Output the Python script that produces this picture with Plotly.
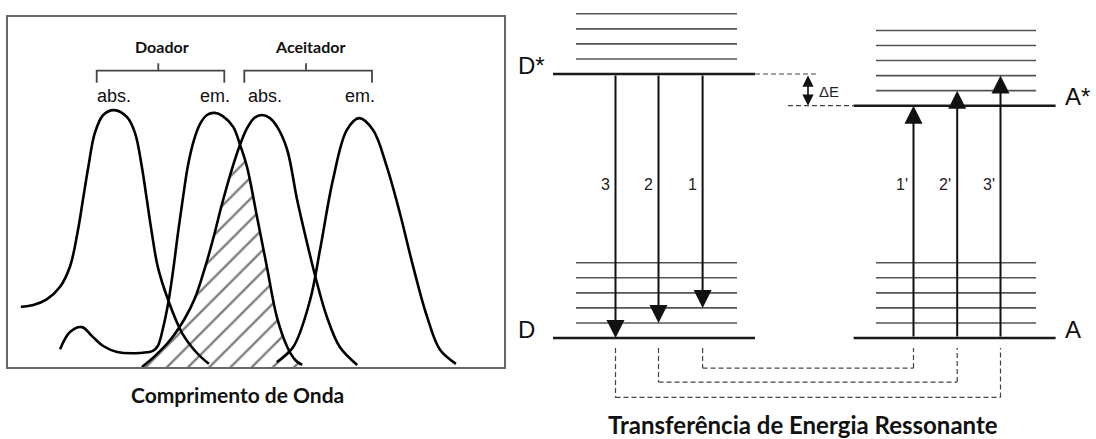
import numpy as np
import plotly.graph_objects as go

W, H = 1096, 439

# ---------------- Spectra (arbitrary wavelength units, intensity units) ----------------
donor_abs_x = [2.6, 5.1, 7.8, 10.5, 12.5, 14.0, 15.1, 16.2, 17.5, 19.2, 21.4, 24.0, 25.6, 27.0, 28.0, 29.0, 30.2, 32.3, 35.1, 38.1, 40.5]
donor_abs_y = [17.2, 17.7, 19.3, 22.9, 28.7, 38.3, 47.7, 57.2, 66.8, 72.0, 73.4, 71.4, 66.9, 57.1, 47.7, 38.3, 28.6, 19.1, 9.7, 4.0, 0.9]

donor_em_x = [10.5, 12.5, 14.9, 17.1, 19.2, 22.0, 26.6, 29.2, 30.2, 31.3, 32.3, 33.3, 34.3, 35.3, 36.3, 37.5, 38.7, 40.1, 41.7, 43.3, 45.4, 46.8, 48.2, 50.2, 52.2, 54.2, 56.3, 57.9, 59.3]
donor_em_y = [5.1, 10.0, 11.4, 8.6, 6.0, 4.3, 4.0, 4.6, 6.0, 11.4, 18.3, 27.7, 38.6, 48.6, 57.7, 64.9, 69.4, 72.0, 72.6, 71.7, 68.6, 63.4, 57.1, 42.9, 28.6, 14.3, 5.7, 2.0, 0.6]

acc_abs_x = [27.0, 29.6, 32.7, 35.7, 37.7, 39.7, 41.3, 43.1, 44.8, 46.4, 48.0, 49.6, 51.2, 52.8, 54.4, 56.3, 58.3, 60.3, 62.3, 64.3, 66.9, 70.4]
acc_abs_y = [0.0, 3.1, 7.7, 14.0, 19.7, 28.3, 36.3, 46.3, 54.9, 62.0, 67.7, 71.1, 72.0, 71.1, 68.3, 62.0, 47.7, 35.4, 24.0, 14.3, 5.7, 0.6]

acc_em_x = [54.2, 57.5, 60.9, 62.9, 65.5, 68.3, 70.8, 73.6, 76.4, 79.0, 81.7, 84.5, 87.1, 90.3]
acc_em_y = [1.4, 5.7, 19.1, 33.4, 53.4, 67.7, 71.1, 67.7, 57.1, 44.0, 28.6, 14.3, 4.9, 0.9]

group_labels = ["Doador", "Aceitador"]
band_labels = ["abs.", "em.", "abs.", "em."]
xlabel_left = "Comprimento de Onda"

# ---------------- Energy levels (energy units) ----------------
E_D = 0.0
E_Dstar = 10.0
E_A = 0.0
E_Astar = 8.8
D_vib = [0.57, 1.14, 1.71, 2.28, 2.85]
Dstar_vib = [10.57, 11.14, 11.71, 12.28]
A_vib = [0.57, 1.14, 1.71, 2.28, 2.85]
Astar_vib = [9.37, 9.94, 10.51, 11.08, 11.65]
donor_targets = [1.14, 0.57, 0.0]          # transitions 1, 2, 3 (D* -> D levels)
acceptor_targets = [8.8, 9.37, 9.94]       # transitions 1', 2', 3' (A -> A* levels)
donor_tlabels = ["1", "2", "3"]
acceptor_tlabels = ["1'", "2'", "3'"]
title_right = "Transferência de Energia Ressonante"

# ---------------- Layout constants (pixels) ----------------
BOX_L, BOX_R, BOX_T, BOX_B = 8, 504, 17, 367
E_TOP, E_BOT = (338 - 0) / 26.4, (338 - H) / 26.4

def pxx(x):
    return x / W

def pxy(y):
    return 1 - y / H

fig = go.Figure()

# hatch (overlap of donor emission and acceptor absorption)
xs = np.linspace(acc_abs_x[0], donor_em_x[-1], 240)
top = np.minimum(np.interp(xs, donor_em_x, donor_em_y), np.interp(xs, acc_abs_x, acc_abs_y))
fig.add_trace(go.Scatter(
    x=list(xs) + [xs[-1], xs[0]], y=list(top) + [0, 0],
    mode="lines", fill="toself", line=dict(width=0, color="rgba(0,0,0,0)"),
    fillcolor="rgba(0,0,0,0)",
    fillpattern=dict(shape="/", size=15, solidity=0.16, fgcolor="#000", bgcolor="rgba(0,0,0,0)"),
    hoverinfo="skip", showlegend=False, xaxis="x", yaxis="y"))

for cx, cy in [(donor_abs_x, donor_abs_y), (donor_em_x, donor_em_y),
               (acc_abs_x, acc_abs_y), (acc_em_x, acc_em_y)]:
    fig.add_trace(go.Scatter(x=cx, y=cy, mode="lines",
                             line=dict(color="black", width=2.6, shape="spline"),
                             showlegend=False, hoverinfo="skip", xaxis="x", yaxis="y"))

# ---------------- Energy diagram ----------------
DX0, DX1 = 553, 755        # donor main levels
DV0, DV1 = 576, 737        # donor vibrational levels
AX0, AX1 = 853.6, 1055.6   # acceptor main levels
AV0, AV1 = 876, 1036       # acceptor vibrational levels
donor_arrow_x = [702.6, 658.5, 615.5]
acc_arrow_x = [913.5, 957.2, 1000.5]

def seg_trace(segs, color, width, dash=None):
    xx, yy = [], []
    for (x0, y0, x1, y1) in segs:
        xx += [x0, x1, None]
        yy += [y0, y1, None]
    return go.Scatter(x=xx, y=yy, mode="lines",
                      line=dict(color=color, width=width, dash=dash),
                      showlegend=False, hoverinfo="skip", xaxis="x2", yaxis="y2")

vib = [(DV0, e, DV1, e) for e in D_vib + Dstar_vib] + [(AV0, e, AV1, e) for e in A_vib + Astar_vib]
fig.add_trace(seg_trace(vib, "#555", 1.6))
main = [(DX0, E_D, DX1, E_D), (DX0, E_Dstar, DX1, E_Dstar),
        (AX0, E_A, AX1, E_A), (AX0, E_Astar, AX1, E_Astar)]
fig.add_trace(seg_trace(main, "#1a1a1a", 2.6))

# dashed guides for Delta E
dE = [(DX1, E_Dstar, 819, E_Dstar), (788, E_Astar, AX0, E_Astar)]
fig.add_trace(seg_trace(dE, "#444", 1.2, "5px,3px"))

# dashed connectors below
conn_top = -0.38
conn_depth = [-1.14, -1.67, -2.25]
conn = []
for dx, ax_, d in zip(donor_arrow_x, acc_arrow_x, conn_depth):
    conn += [(dx, conn_top, dx, d), (dx, d, ax_, d), (ax_, d, ax_, conn_top)]
fig.add_trace(seg_trace(conn, "#444", 1.2, "5px,3px"))

annotations = []
for x, tgt in zip(donor_arrow_x, donor_targets):
    annotations.append(dict(x=x, y=tgt, ax=x, ay=E_Dstar, xref="x2", yref="y2",
                            axref="x2", ayref="y2", text="", showarrow=True,
                            arrowhead=2, arrowsize=1.8, arrowwidth=2, arrowcolor="#111"))
for x, tgt in zip(acc_arrow_x, acceptor_targets):
    annotations.append(dict(x=x, y=tgt, ax=x, ay=E_A, xref="x2", yref="y2",
                            axref="x2", ayref="y2", text="", showarrow=True,
                            arrowhead=2, arrowsize=1.8, arrowwidth=2, arrowcolor="#111"))
# Delta E double arrow
annotations.append(dict(x=808, y=E_Astar, ax=808, ay=E_Dstar, xref="x2", yref="y2",
                        axref="x2", ayref="y2", text="", showarrow=True,
                        arrowhead=2, startarrowhead=2, arrowside="end+start",
                        arrowsize=1.4, startarrowsize=1.4, arrowwidth=1.6, arrowcolor="#111"))
annotations.append(dict(x=817, y=(E_Dstar + E_Astar) / 2 - 0.06, xref="x2", yref="y2",
                        text="\u0394E", showarrow=False, xanchor="left", yanchor="middle",
                        font=dict(family="Liberation Sans", size=15, color="#222")))

mid_lab = 5.8
for x, t in zip(donor_arrow_x, donor_tlabels):
    annotations.append(dict(x=x - 4, y=mid_lab, xref="x2", yref="y2", text=t, showarrow=False,
                            xanchor="right", yanchor="middle",
                            font=dict(family="Liberation Sans", size=16, color="#222")))
for x, t in zip(acc_arrow_x, acceptor_tlabels):
    annotations.append(dict(x=x - 4, y=mid_lab, xref="x2", yref="y2", text=t, showarrow=False,
                            xanchor="right", yanchor="middle",
                            font=dict(family="Liberation Sans", size=16, color="#222")))

lvl_font = dict(family="Liberation Sans", size=24, color="#111")
for t, x, e in [("D*", 516, E_Dstar), ("D", 516, E_D), ("A*", 1063, E_Astar), ("A", 1063, E_A)]:
    annotations.append(dict(x=x, y=e + 0.34, xref="x2", yref="y2", text=t, showarrow=False,
                            xanchor="left", yanchor="middle", font=lvl_font))

annotations.append(dict(x=pxx(803), y=pxy(424), xref="paper", yref="paper", text="<b>" + title_right + "</b>",
                        showarrow=False, xanchor="center", yanchor="middle",
                        font=dict(family="Lato", size=24, color="#111")))

# ---------------- Left panel labels ----------------
annotations.append(dict(x=pxx(237), y=pxy(394), xref="paper", yref="paper", text="<b>" + xlabel_left + "</b>",
                        showarrow=False, xanchor="center", yanchor="middle",
                        font=dict(family="Lato", size=21, color="#111")))
for t, cx in zip(group_labels, [162, 310]):
    annotations.append(dict(x=pxx(cx), y=pxy(46), xref="paper", yref="paper", text="<b>" + t + "</b>",
                            showarrow=False, xanchor="center", yanchor="middle",
                            font=dict(family="Lato", size=16, color="#111")))
for t, cx in zip(band_labels, [114, 215, 265, 360]):
    annotations.append(dict(x=pxx(cx), y=pxy(96), xref="paper", yref="paper", text=t,
                            showarrow=False, xanchor="center", yanchor="middle",
                            font=dict(family="Liberation Sans", size=18, color="#111")))

shapes = []
for (l, c, r) in [(96.7, 158.3, 224.3), (244.3, 306, 372)]:
    shapes.append(dict(type="path", xref="paper", yref="paper",
                       path=f"M{pxx(l)},{pxy(82.7)} L{pxx(l)},{pxy(70.7)} L{pxx(r)},{pxy(70.7)} L{pxx(r)},{pxy(82.7)}",
                       line=dict(color="#444", width=1.8)))
    shapes.append(dict(type="line", xref="paper", yref="paper", x0=pxx(c), x1=pxx(c),
                       y0=pxy(70.7), y1=pxy(63.3), line=dict(color="#444", width=1.8)))

axis_hidden = dict(visible=False, showgrid=False, zeroline=False)
fig.update_layout(
    width=W, height=H, margin=dict(l=0, r=0, t=0, b=0),
    paper_bgcolor="white", plot_bgcolor="rgba(0,0,0,0)",
    showlegend=False,
    xaxis=dict(domain=[pxx(BOX_L), pxx(BOX_R)], range=[0, 100], showgrid=False, zeroline=False,
               showticklabels=False, ticks="", showline=True, mirror=True, linecolor="#666",
               linewidth=1.7, anchor="y"),
    yaxis=dict(domain=[pxy(BOX_B), pxy(BOX_T)], range=[0, 100], showgrid=False, zeroline=False,
               showticklabels=False, ticks="", showline=True, mirror=True, linecolor="#666",
               linewidth=1.7, anchor="x"),
    xaxis2=dict(domain=[0, 1], range=[0, W], anchor="y2", **axis_hidden),
    yaxis2=dict(domain=[0, 1], range=[E_BOT, E_TOP], anchor="x2", **axis_hidden),
    annotations=annotations, shapes=shapes,
)

fig.write_html("out.html")
